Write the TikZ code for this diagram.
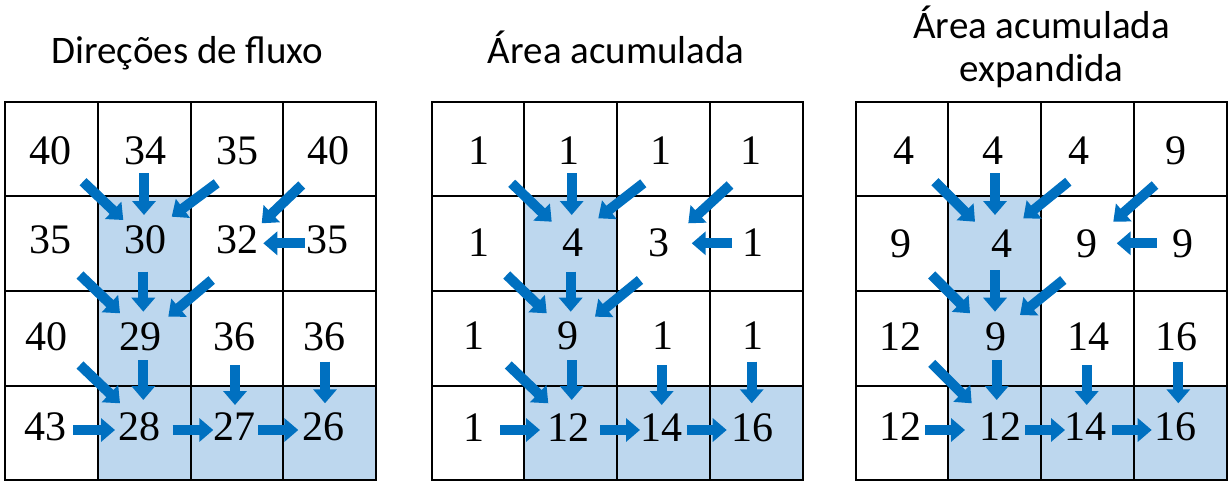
\documentclass[tikz,border=0pt]{standalone}
\usepackage{fontspec}
\setmainfont{Liberation Serif}
\newfontfamily\titlefont{Carlito}
\usetikzlibrary{arrows.meta}
\definecolor{cellblue}{RGB}{189,215,238}
\definecolor{arrowblue}{RGB}{0,112,192}
\newcommand\drawgrid[1]{%
  \foreach \c/\r in {1/1,1/2,1/3,2/3,3/3}
    \fill[cellblue] (#1+\c*92.75, 101.7+\r*94.6) rectangle ++(92.75,94.6);
  \foreach \i in {1,2,3} {
    \draw[gridline] (#1+\i*92.75,101.7) -- ++(0,378.4);
    \draw[gridline] (#1,101.7+\i*94.6) -- ++(371,0);
  }
  \draw[gridline] (#1,101.7) rectangle ++(371,378.4);
}
\begin{document}
\begin{tikzpicture}[x=1pt,y=-1pt,
  title/.style={font=\titlefont\fontsize{39}{39}\selectfont, anchor=base, inner sep=0},
  num/.style={font=\fontsize{42}{42}\selectfont, inner sep=0},
  flow/.style={draw=arrowblue, line width=10pt, -{Triangle[width=23pt,length=14pt]}},
  gridline/.style={line width=2pt, black}]
\useasboundingbox (0,0) rectangle (1230,490);

% titles
\node[title] (t1) at (187.5,63.3) {Direções de fluxo};
\node[title] (t2) at (616.3,63.3) {Área acumulada};
\node[title] (t3a) at (1041.7,38.3) {Área acumulada};
\node[title] (t3b) at (1041.7,81.7) {expandida};

% grids
\drawgrid{5}
\drawgrid{431.7}
\drawgrid{855.7}

% grid 1 numbers
\node[num] (a00) at (50,150.8) {40};
\node[num] (a01) at (145,150.8) {34};
\node[num] (a02) at (237,150.8) {35};
\node[num] (a03) at (328,150.8) {40};
\node[num] (a10) at (50.8,240) {35};
\node[num] (a11) at (145,240) {30};
\node[num] (a12) at (237,240) {32};
\node[num] (a13) at (327.5,240) {35};
\node[num] (a20) at (46.7,336.7) {40};
\node[num] (a21) at (140,336.7) {29};
\node[num] (a22) at (234,336.7) {36};
\node[num] (a23) at (324,336.7) {36};
\node[num] (a30) at (45.8,426.7) {43};
\node[num] (a31) at (139,426.7) {28};
\node[num] (a32) at (234,426.7) {27};
\node[num] (a33) at (323,426.7) {26};

% grid 2 numbers
\node[num] (b00) at (479.2,150.8) {1};
\node[num] (b01) at (569,150.8) {1};
\node[num] (b02) at (660.8,150.8) {1};
\node[num] (b03) at (751,150.8) {1};
\node[num] (b10) at (479,242.5) {1};
\node[num] (b11) at (572.5,242.5) {4};
\node[num] (b12) at (659,242.5) {3};
\node[num] (b13) at (752.5,242.5) {1};
\node[num] (b20) at (474,335.8) {1};
\node[num] (b21) at (568,335.8) {9};
\node[num] (b22) at (662.5,335.8) {1};
\node[num] (b23) at (752.5,335.8) {1};
\node[num] (b30) at (474,427.5) {1};
\node[num] (b31) at (568,427.5) {12};
\node[num] (b32) at (661.7,427.5) {14};
\node[num] (b33) at (752,427.5) {16};

% grid 3 numbers
\node[num] (c00) at (904,150.8) {4};
\node[num] (c01) at (992.5,150.8) {4};
\node[num] (c02) at (1079,150.8) {4};
\node[num] (c03) at (1175.8,150.8) {9};
\node[num] (c10) at (900.8,244) {9};
\node[num] (c11) at (1001.7,244) {4};
\node[num] (c12) at (1086.7,244) {9};
\node[num] (c13) at (1182.5,244) {9};
\node[num] (c20) at (900,336.7) {12};
\node[num] (c21) at (996,336.7) {9};
\node[num] (c22) at (1088,336.7) {14};
\node[num] (c23) at (1176,336.7) {16};
\node[num] (c30) at (900,426.7) {12};
\node[num] (c31) at (1000,426.7) {12};
\node[num] (c32) at (1085.8,426.7) {14};
\node[num] (c33) at (1175,426.7) {16};

% grid 1 arrows
\draw[flow] (83,181.7) -- (123.3,220);
\draw[flow] (144,173.3) -- (144,215);
\draw[flow] (216.7,183.3) -- (171.7,216.7);
\draw[flow] (301.7,185) -- (261.7,223.3);
\draw[flow] (305,243.3) -- (263.3,243.3);
\draw[flow] (80,275) -- (120,313.3);
\draw[flow] (143.3,271.7) -- (143.3,311.7);
\draw[flow] (211.7,280) -- (168.3,316.7);
\draw[flow] (80,365) -- (120,403.3);
\draw[flow] (143.3,360) -- (143.3,400);
\draw[flow] (235,365) -- (235,405);
\draw[flow] (325,361.7) -- (325,403.3);
\draw[flow] (73.3,430) -- (115,430);
\draw[flow] (172.7,430) -- (213.3,430);
\draw[flow] (258.3,430) -- (298.3,430);

% grid 2 arrows
\draw[flow] (511.7,183.3) -- (551.7,221.7);
\draw[flow] (571.7,173.3) -- (571.7,215);
\draw[flow] (643.3,183.3) -- (598.3,218.3);
\draw[flow] (730,185) -- (688.3,223.3);
\draw[flow] (731.7,243.3) -- (691.7,243.3);
\draw[flow] (506.7,275) -- (546.7,313.3);
\draw[flow] (570.7,271.7) -- (570.7,311.7);
\draw[flow] (640,280) -- (595,316.7);
\draw[flow] (508.3,365) -- (548.3,403.3);
\draw[flow] (571.7,360) -- (571.7,400);
\draw[flow] (661.7,365) -- (661.7,405);
\draw[flow] (751.7,361.7) -- (751.7,403.3);
\draw[flow] (500,430) -- (540,430);
\draw[flow] (600,430) -- (640,430);
\draw[flow] (686.7,430) -- (726.7,430);

% grid 3 arrows
\draw[flow] (935,181.7) -- (975,221.7);
\draw[flow] (995,173.3) -- (995,215);
\draw[flow] (1068.3,181.7) -- (1023.3,218.3);
\draw[flow] (1155,185) -- (1113.3,221.7);
\draw[flow] (1156.7,243.3) -- (1116.7,243.3);
\draw[flow] (931.7,275) -- (970,313.3);
\draw[flow] (995,270) -- (995,311.7);
\draw[flow] (1063.3,280) -- (1020,315);
\draw[flow] (931.7,363.3) -- (971.7,403.3);
\draw[flow] (996.7,360) -- (996.7,400);
\draw[flow] (1086.7,365) -- (1086.7,405);
\draw[flow] (1178.3,361.7) -- (1178.3,403.3);
\draw[flow] (925,430) -- (965,430);
\draw[flow] (1025,430) -- (1065,430);
\draw[flow] (1111.7,430) -- (1151.7,430);
\end{tikzpicture}
\end{document}
